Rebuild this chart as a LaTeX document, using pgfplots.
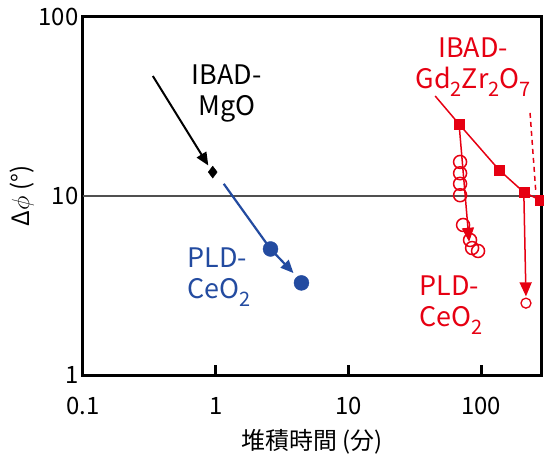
\documentclass[border=0pt]{standalone}
\usepackage{pgfplots}
\pgfplotsset{compat=1.18}
\usetikzlibrary{arrows.meta}
\usepackage{fontspec}
\setmainfont{Noto Sans CJK JP}
\definecolor{myred}{RGB}{230,0,18}
\definecolor{myblue}{RGB}{35,75,160}
\newcommand{\sub}[1]{\raisebox{-0.3em}{\fontsize{20}{20}\selectfont #1}}
\begin{document}
\begin{tikzpicture}
\begin{axis}[name=ax,
  scale only axis, width=458bp, height=358bp,
  xmode=log, ymode=log,
  xmin=0.1, xmax=283, ymin=1, ymax=100,
  axis line style={line width=3bp},
  xtick={0.1,1,10,100}, xticklabels={0.1,1,10,100},
  ytick={1,10,100}, yticklabels={1,10,100},
  xminorticks=false, yminorticks=false,
  xtick pos=bottom, ytick pos=left,
  xtick style={line width=3bp, black},
  major tick length=10bp,
  ytick style={draw=none},
  tick align=inside,
  ticklabel style={font=\fontsize{24}{24}\selectfont},
  /pgf/number format/assume math mode=true,
  xticklabel style={yshift=-19bp},
  yticklabel style={xshift=-1bp},
  xlabel={堆積時間 (分)},
  ylabel={Δ$\phi$ (°)},
  label style={font=\fontsize{24}{24}\selectfont},
  xlabel style={yshift=-7bp},
  ylabel style={yshift=-2bp},
  clip=false,
]
% reference line at 10
\addplot[color={rgb,255:red,80;green,80;blue,80}, line width=1.2bp] coordinates {(0.1,10) (283,10)};

% IBAD-MgO
\addplot[black, line width=2bp, -{Triangle[length=13bp,width=11bp]}] coordinates {(0.336,46.8) (0.88,14.8)};
\addplot[black, only marks, mark=diamond*, mark size=6bp] coordinates {(0.95,13.6)};

% PLD-CeO2 blue
\addplot[myblue, line width=2.2bp, -{Triangle[length=13bp,width=11bp]}] coordinates {(1.15,11.7) (2.59,5.06) (3.86,3.71)};
\addplot[myblue, only marks, mark=*, mark size=7.5bp] coordinates {(2.59,5.06) (4.43,3.27)};

% IBAD-Gd2Zr2O7
\addplot[myred, line width=1.5bp] coordinates {(45.1,36.2) (68.3,25.2) (136.5,14.0) (210,10.5) (278,9.5)};
\addplot[myred, line width=1.5bp, dashed, dash pattern=on 5bp off 4bp] coordinates {(234,29.1) (259,10.4)};

% PLD-CeO2 red
\addplot[myred, line width=1.5bp, -{Triangle[length=14bp,width=12bp]}] coordinates {(68.3,25.2) (81.3,5.55)};
\addplot[myred, line width=1.5bp, -{Triangle[length=14bp,width=12bp]}] coordinates {(210,10.5) (218,2.75)};
\addplot[myred, only marks, mark=o, mark size=6.5bp, mark options={line width=1.5bp}] coordinates {
(69.5,15.5) (69.5,13.4) (69.5,11.7) (69.5,10.1) (73.2,6.89) (82.6,5.68) (85.6,5.12) (94.9,4.93)};
\addplot[myred, only marks, mark=o, mark size=5bp, mark options={line width=1.3bp}] coordinates {(218,2.52)};
\addplot[myred, only marks, mark=square*, mark size=5bp] coordinates {(68.3,25.2) (136.5,14.0) (210,10.5) (278,9.5)};

% labels
\node[align=center, font=\fontsize{27}{31}\selectfont] at (axis cs:1.21,37.2) {IBAD-\\MgO};
\node[align=left, anchor=west, text=myblue, font=\fontsize{27}{31}\selectfont] at (axis cs:0.58,3.53) {PLD-\\CeO\sub{2}};
\node[align=center, text=myred, font=\fontsize{27}{31}\selectfont] at (axis cs:87.1,52.6) {IBAD-\\Gd\sub{2}Zr\sub{2}O\sub{7}};
\node[align=left, anchor=west, text=myred, font=\fontsize{27}{31}\selectfont] at (axis cs:32.5,2.46) {PLD-\\CeO\sub{2}};
\end{axis}
\pgfresetboundingbox
\path ([shift={(-83bp,-79bp)}]ax.south west) rectangle ([shift={(3bp,17bp)}]ax.north east);
\end{tikzpicture}
\end{document}
